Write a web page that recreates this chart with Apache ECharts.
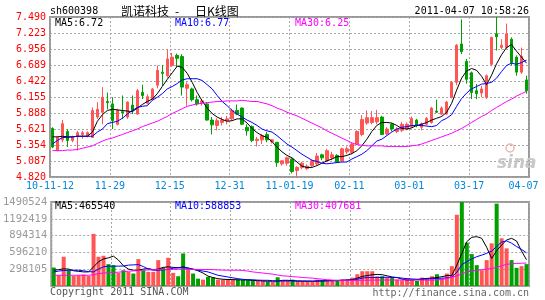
<!DOCTYPE html>
<html><head><meta charset="utf-8">
<script src="https://cdn.jsdelivr.net/npm/echarts@6/dist/echarts.min.js"></script>
<style>html,body{margin:0;padding:0;background:#fff}#c{width:545px;height:300px}</style>
</head><body><div id="c"></div>
<script>
var dates = [
'2010-11-15','2010-11-16','2010-11-17','2010-11-18','2010-11-19',
'2010-11-22','2010-11-23','2010-11-24','2010-11-25','2010-11-26',
'2010-11-29','2010-11-30','2010-12-01','2010-12-02','2010-12-03',
'2010-12-06','2010-12-07','2010-12-08','2010-12-09','2010-12-10',
'2010-12-13','2010-12-14','2010-12-15','2010-12-16','2010-12-17',
'2010-12-20','2010-12-21','2010-12-22','2010-12-23','2010-12-24',
'2010-12-27','2010-12-28','2010-12-29','2010-12-30','2010-12-31',
'2011-01-04','2011-01-05','2011-01-06','2011-01-07',
'2011-01-10','2011-01-11','2011-01-12','2011-01-13','2011-01-14',
'2011-01-17','2011-01-18','2011-01-19','2011-01-20','2011-01-21',
'2011-01-24','2011-01-25','2011-01-26','2011-01-27','2011-01-28',
'2011-01-31','2011-02-01',
'2011-02-09','2011-02-10','2011-02-11',
'2011-02-14','2011-02-15','2011-02-16','2011-02-17','2011-02-18',
'2011-02-21','2011-02-22','2011-02-23','2011-02-24','2011-02-25',
'2011-02-28','2011-03-01','2011-03-02','2011-03-03','2011-03-04',
'2011-03-07','2011-03-08','2011-03-09','2011-03-10','2011-03-11',
'2011-03-14','2011-03-15','2011-03-16','2011-03-17','2011-03-18',
'2011-03-21','2011-03-22','2011-03-23','2011-03-24','2011-03-25',
'2011-03-28','2011-03-29','2011-03-30','2011-03-31','2011-04-01',
'2011-04-06','2011-04-07'];

var xLabels = ['10-11-12','11-29','12-15','12-31','11-01-19','02-11','03-01','03-17','04-07'];

var openP = [5.63,5.26,5.44,5.58,5.43,5.49,5.53,5.50,5.48,5.82, 5.90,6.08,6.04,5.70,5.91,5.82,6.02,5.87,6.23,6.05, 6.12,6.35,6.57,6.51,6.68,6.85,6.83,6.30,6.29,6.11, 6.06,6.04,5.77,5.68,5.73,5.76,5.79,5.93,5.97,5.65, 5.66,5.43,5.44,5.53,5.41,5.40,5.04,5.05,5.12,4.93, 4.98,4.96,5.01,5.04,5.19,5.09,5.14,5.18,5.09,5.24, 5.23,5.37,5.53,5.72,5.73,5.74,5.82,5.54,5.70,5.58, 5.60,5.62,5.66,5.77,5.65,5.70,5.73,5.92,5.87,5.87, 6.15,6.40,7.04,6.75,6.56,6.26,6.22,6.15,6.70,7.21, 6.98,6.98,7.12,6.82,6.57,6.44];
var closeP = [5.32,5.48,5.71,5.43,5.49,5.56,5.56,5.56,5.93,5.95, 6.15,6.06,5.76,5.93,5.89,6.07,5.93,6.26,6.18,6.16, 6.29,6.60,6.55,6.79,6.82,6.80,6.32,6.36,6.11,6.04, 6.09,5.77,5.69,5.76,5.77,5.79,5.93,5.87,5.70,5.59, 5.43,5.45,5.51,5.44,5.44,5.06,5.09,5.14,4.91,4.98, 5.05,5.00,5.09,5.17,5.14,5.26,5.19,5.07,5.29,5.29, 5.37,5.58,5.78,5.81,5.81,5.81,5.53,5.62,5.62,5.62, 5.70,5.70,5.80,5.68,5.71,5.80,5.97,5.90,5.97,6.07, 6.40,7.02,6.91,6.45,6.23,6.21,6.29,6.51,7.15,7.16, 7.02,7.21,6.73,6.57,6.83,6.26];
var lowP = [5.30,5.25,5.40,5.32,5.40,5.26,5.46,5.48,5.47,5.79, 5.70,5.95,5.62,5.68,5.79,5.79,5.87,5.86,6.12,6.03, 6.11,6.30,6.34,6.48,6.66,6.65,6.18,6.01,6.08,6.01, 6.01,5.76,5.53,5.60,5.68,5.70,5.77,5.85,5.69,5.51, 5.40,5.33,5.37,5.40,5.38,4.99,5.01,5.01,4.88,4.82, 4.95,4.94,4.99,5.02,5.10,5.07,5.10,5.06,5.07,5.20, 5.20,5.36,5.50,5.69,5.70,5.70,5.52,5.51,5.58,5.55, 5.57,5.60,5.64,5.65,5.60,5.68,5.71,5.89,5.85,5.86, 6.13,6.35,6.87,6.38,6.12,6.12,6.15,6.12,6.67,6.93, 6.95,6.96,6.68,6.51,6.54,6.21];
var highP = [5.65,5.50,5.77,5.62,5.51,5.59,5.59,5.58,5.98,6.07, 6.32,6.23,6.15,5.96,6.18,6.08,6.18,6.29,6.36,6.20, 6.30,6.68,6.69,6.95,6.89,6.88,6.87,6.40,6.31,6.18, 6.12,6.07,5.82,5.80,5.82,5.84,5.96,6.03,5.98,5.70, 5.68,5.49,5.54,5.57,5.45,5.40,5.10,5.16,5.13,5.00, 5.07,5.03,5.11,5.22,5.21,5.29,5.24,5.20,5.31,5.33, 5.39,5.60,5.85,5.93,5.92,5.94,5.84,5.65,5.72,5.65, 5.74,5.73,5.83,5.79,5.73,5.82,5.99,6.11,6.00,6.09, 6.42,7.04,7.45,6.79,6.58,6.37,6.34,6.53,7.16,7.49, 7.12,7.38,7.15,6.85,6.98,6.51];

var ma5 = [5.49,5.49,5.50,5.49,5.49,5.50,5.50,5.50,5.57,5.75, 5.86,5.93,5.95,5.94,5.93,5.92,5.91,5.97,6.03,6.08, 6.12,6.21,6.33,6.45,6.56,6.67,6.65,6.55,6.40,6.23, 6.09,5.97,5.88,5.82,5.78,5.75,5.76,5.79,5.79,5.72, 5.63,5.56,5.51,5.48,5.41,5.32,5.24,5.18,5.14,5.07, 5.00,4.98,4.98,5.01,5.05,5.09,5.12,5.16,5.16,5.18, 5.21,5.26,5.34,5.45,5.58,5.68,5.73,5.73,5.72,5.68, 5.63,5.62,5.64,5.68,5.70,5.73,5.77,5.80,5.83,5.90, 6.05,6.27,6.47,6.59,6.63,6.60,6.50,6.36,6.52,6.71, 6.86,6.98,7.03,6.92,6.82,6.72];
var ma10 = [5.37,5.43,5.48,5.48,5.49,5.50,5.50,5.50,5.50,5.57, 5.62,5.71,5.73,5.75,5.80,5.87,5.93,5.98,6.00,6.01, 6.10,6.15,6.21,6.29,6.33,6.38,6.44,6.46,6.46,6.46, 6.43,6.36,6.29,6.18,6.08,6.01,5.93,5.87,5.82,5.77, 5.73,5.68,5.62,5.59,5.57,5.51,5.44,5.37,5.32,5.26, 5.20,5.15,5.10,5.08,5.05,5.04,5.05,5.06,5.07,5.07, 5.12,5.16,5.20,5.26,5.34,5.42,5.45,5.51,5.57,5.62, 5.65,5.66,5.68,5.68,5.68,5.67,5.66,5.68,5.76,5.80, 5.86,6.00,6.13,6.22,6.29,6.33,6.37,6.38,6.40,6.47, 6.58,6.68,6.72,6.70,6.73,6.77];
var ma30 = [5.26,5.26,5.26,5.27,5.27,5.28,5.30,5.32,5.34,5.38, 5.42,5.45,5.47,5.50,5.53,5.56,5.59,5.62,5.66,5.69, 5.72,5.75,5.79,5.83,5.88,5.92,5.96,6.00,6.02,6.04, 6.05,6.06,6.07,6.08,6.08,6.09,6.09,6.09,6.10,6.09, 6.08,6.08,6.06,6.04,6.01,5.97,5.94,5.90,5.87,5.84, 5.80,5.76,5.72,5.68,5.64,5.59,5.55,5.51,5.47,5.43, 5.39,5.36,5.35,5.34,5.34,5.34,5.34,5.33,5.33,5.33, 5.33,5.33,5.34,5.35,5.37,5.40,5.43,5.46,5.49,5.52, 5.55,5.59,5.63,5.68,5.73,5.78,5.83,5.87,5.93,5.98, 6.03,6.08,6.12,6.17,6.21,6.25];

var vol = [328000,191000,519000,280000,179000,191000,203000,179000,924000,519000, 537000,388000,370000,233000,280000,250000,221000,477000,280000,250000, 250000,459000,328000,501000,233000,173000,578000,298000,221000,131000, 113000,161000,149000,113000,113000,125000,119000,113000,113000,101000, 101000,89000,89000,78000,72000,155000,101000,101000,113000,89000, 89000,83000,72000,113000,101000,113000,89000,89000,119000,119000, 149000,209000,262000,262000,262000,173000,173000,149000,149000,113000, 101000,131000,113000,89000,149000,131000,173000,209000,131000,221000, 352000,1264000,1490000,769000,566000,370000,280000,459000,757000,1461000, 847000,668000,459000,322000,352000,388000];
var vma5 = [280000,290000,305000,300000,270000,260000,250000,250000,340000,430000, 480000,500000,530000,460000,360000,300000,280000,280000,300000,310000, 290000,300000,330000,340000,330000,325000,340000,320000,300000,270000, 230000,175000,150000,130000,120000,115000,113000,110000,108000,105000, 100000,95000,90000,85000,85000,85000,101000,101000,95000,90000, 88000,88000,88000,90000,92000,95000,95000,95000,100000,105000, 113000,140000,170000,185000,200000,205000,200000,180000,160000,150000, 120000,105000,108000,115000,125000,135000,140000,150000,165000,185000, 190000,370000,578000,787000,864000,876000,846000,686000,489000,626000, 727000,817000,846000,799000,620000,465540];
var vma10 = [250000,265000,275000,280000,280000,280000,270000,255000,250000,300000, 340000,352000,352000,352000,355000,370000,375000,380000,345000,300000, 280000,280000,285000,295000,315000,322000,326000,310000,295000,280000, 265000,250000,220000,190000,175000,160000,145000,130000,118000,113000, 110000,104000,101000,101000,95000,90000,89000,89000,89000,88000, 86000,85000,82000,85000,88000,92000,95000,100000,101000,104000, 110000,120000,140000,149000,149000,149000,152000,155000,152000,150000, 140000,130000,125000,120000,118000,125000,130000,135000,140000,143000, 160000,245000,380000,430000,480000,520000,548000,580000,620000,700000, 780000,800000,760000,700000,650000,588853];
var vma30 = [191000,191000,191000,191000,191000,191000,191000,191000,200000,220000, 230000,235000,240000,245000,255000,262000,268000,272000,280000,285000, 290000,292000,292000,295000,295000,298000,298000,298000,295000,292000, 292000,292000,290000,285000,282000,280000,280000,280000,275000,265000, 250000,240000,230000,220000,210000,195000,180000,175000,165000,160000, 150000,145000,140000,130000,120000,110000,105000,100000,100000,100000, 100000,101000,102000,103000,104000,105000,105000,106000,106000,106000, 106000,106000,105000,105000,104000,104000,105000,108000,115000,135000, 155000,180000,215000,250000,265000,280000,290000,300000,310000,330000, 360000,385000,395000,400000,404000,407681];

var UP = '#ff5555', DOWN = '#00a000';
var MONO = 'DejaVu Sans Mono';
var GRIDLINE = {show:true, lineStyle:{color:'#a8a8a8', type:[2,2], width:1}};

var candle = dates.map(function(d,i){ return [openP[i], closeP[i], lowP[i], highP[i]]; });
var volData = vol.map(function(v,i){ return {value:v, itemStyle:{color: closeP[i] >= openP[i] ? UP : DOWN}}; });

function line(data, color, xi, yi){
  return {type:'line', xAxisIndex:xi, yAxisIndex:yi, data:data, symbol:'none', silent:true,
          lineStyle:{color:color, width:1}, z:5};
}
function txt(s, x, y, color, opt){
  opt = opt || {};
  return {type:'text', z:100, style:{text:s, x:x, y:y, fill:color,
    font:(opt.font || ('10px "' + MONO + '"')), textAlign:opt.align || 'left',
    textVerticalAlign:'middle', verticalAlign:'middle'}};
}

var chart = echarts.init(document.getElementById('c'), null, {renderer:'canvas'});
chart.setOption({
  animation:false,
  backgroundColor:'#fff',
  grid:[
    {left:50, top:17, width:479, height:160, show:true, borderColor:'#999', borderWidth:2},
    {left:50, top:202, width:479, height:84, show:true, borderColor:'#999', borderWidth:2}
  ],
  xAxis:[
    {type:'category', gridIndex:0, data:dates, show:false, boundaryGap:true, position:'top'},
    {type:'value', gridIndex:0, position:'bottom', min:0, max:96, interval:12, axisLine:{show:false}, axisTick:{show:false},
     splitLine:GRIDLINE,
     axisLabel:{margin:4, color:'#0088dd', fontFamily:MONO, fontSize:10,
       formatter:function(v){ var k = Math.round(v/12); if (k === 8) return '{r|' + xLabels[k] + '}'; return xLabels[k] || ''; },
       rich:{r:{padding:[0,11,0,0], color:'#0088dd', fontFamily:MONO, fontSize:10}}}},
    {type:'category', gridIndex:1, data:dates, show:false, boundaryGap:true, position:'top'},
    {type:'value', gridIndex:1, position:'bottom', min:0, max:96, interval:12, axisLine:{show:false}, axisTick:{show:false},
     axisLabel:{show:false}, splitLine:GRIDLINE}
  ],
  yAxis:[
    {type:'value', gridIndex:0, min:4.82, max:7.49, interval:0.267, axisLine:{show:false}, axisTick:{show:false},
     splitLine:GRIDLINE,
     axisLabel:{margin:4, color:'#ff0000', fontFamily:MONO, fontSize:10, formatter:function(v){ return v.toFixed(3); }}},
    {type:'value', gridIndex:1, min:0, max:1490524, interval:298104.8, axisLine:{show:false}, axisTick:{show:false},
     splitLine:GRIDLINE,
     axisLabel:{margin:4, color:'#999', fontFamily:MONO, fontSize:10.5, formatter:function(v){ return v < 1 ? '' : String(Math.round(v)); }}}
  ],
  series:[
    {type:'candlestick', xAxisIndex:0, yAxisIndex:0, data:candle, barWidth:3, silent:true,
     itemStyle:{color:UP, color0:DOWN, borderColor:UP, borderColor0:DOWN, borderWidth:1}},
    line(ma5, '#000000', 0, 0),
    line(ma10, '#0000ff', 0, 0),
    line(ma30, '#ff00ff', 0, 0),
    {type:'bar', xAxisIndex:2, yAxisIndex:1, data:volData, barWidth:4, silent:true},
    line(vma5, '#000000', 2, 1),
    line(vma10, '#0000ff', 2, 1),
    line(vma30, '#ff00ff', 2, 1)
  ],
  graphic:[
    txt('sh600398', 50, 11, '#000'),
    txt('凯诺科技', 121, 11, '#000', {font:'12px "Noto Sans CJK SC"'}),
    txt('-', 175, 11, '#000', {font:'12px "Noto Sans CJK SC"'}),
    txt('日K线图', 195, 11, '#000', {font:'12px "Noto Sans CJK SC"'}),
    txt('2011-04-07 10:58:26', 529, 11, '#000', {align:'right'}),
    txt('MA5:6.72', 55, 23, '#000'),
    txt('MA10:6.77', 175, 23, '#0000ff'),
    txt('MA30:6.25', 295, 23, '#ff00ff'),
    txt('MA5:465540', 55, 206, '#000'),
    txt('MA10:588853', 175, 206, '#0000ff'),
    txt('MA30:407681', 295, 206, '#ff00ff'),
    txt('Copyright 2011 SINA.COM', 50, 292, '#555'),
    txt('http://finance.sina.com.cn', 529, 293, '#666', {align:'right'}),
    {type:'circle', z:50, shape:{cx:510, cy:148, r:4}, style:{fill:'none', stroke:'#f3b3b3', lineWidth:1.5}},
    txt('sina', 497, 164, '#c8c8c8', {font:'italic bold 17px "DejaVu Sans"'})
  ]
});
</script>
</body></html>
